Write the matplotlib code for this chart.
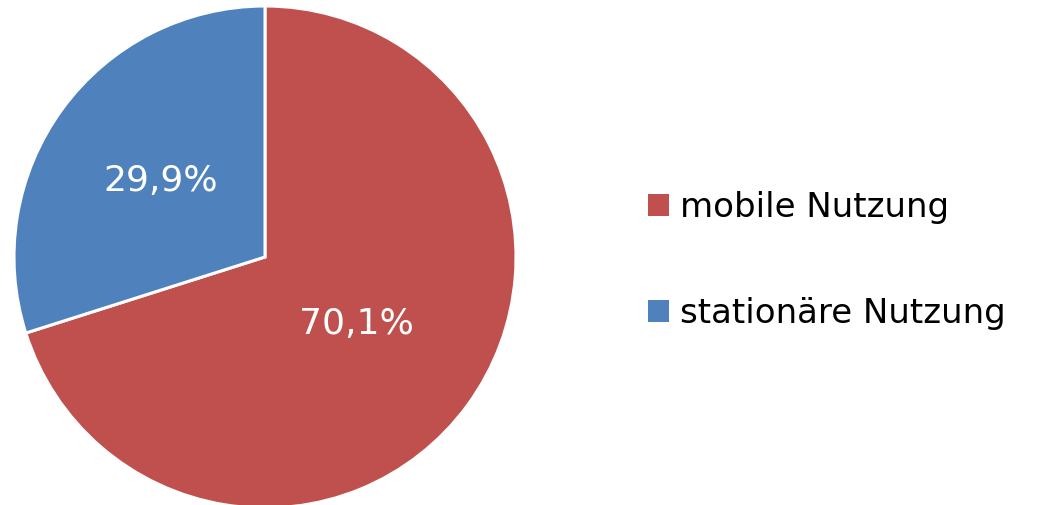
import matplotlib.pyplot as plt
from matplotlib.patches import Patch

# Data
labels = ['mobile Nutzung', 'stationäre Nutzung']
shares = [70.1, 29.9]
colors = ['#C0504D', '#4F81BD']
label_dist = [0.45, 0.515]  # radial position of the percentage labels

plt.rcParams['font.family'] = ['DejaVu Sans']

fig = plt.figure(figsize=(10.38, 5.05), dpi=100)

# pie axes: centre ~(265, 257) px, radius ~251 px
ax = fig.add_axes([14 / 1038, -3 / 505, 502 / 1038, 502 / 505])
wedges, texts, autotexts = ax.pie(
    shares, colors=colors, startangle=90, counterclock=False,
    autopct=lambda p: f'{p:.1f}%'.replace('.', ','), pctdistance=0.5,
    wedgeprops=dict(edgecolor='white', linewidth=2.2),
    textprops=dict(color='white', fontsize=26))
for at, d in zip(autotexts, label_dist):
    x, y = at.get_position()
    at.set_position((x / 0.5 * d, y / 0.5 * d))
ax.set_xlim(-1, 1)
ax.set_ylim(-1, 1)
ax.set_aspect('equal')
ax.axis('off')

handles = [Patch(facecolor=c, edgecolor='none') for c in colors]
fig.legend(handles, labels, loc='center left', bbox_to_anchor=(0.595, 0.484),
           frameon=False, fontsize=24.5, handlelength=0.62, handleheight=0.62,
           handletextpad=0.32, labelspacing=2.16)

fig.savefig('out.png', dpi=100)
